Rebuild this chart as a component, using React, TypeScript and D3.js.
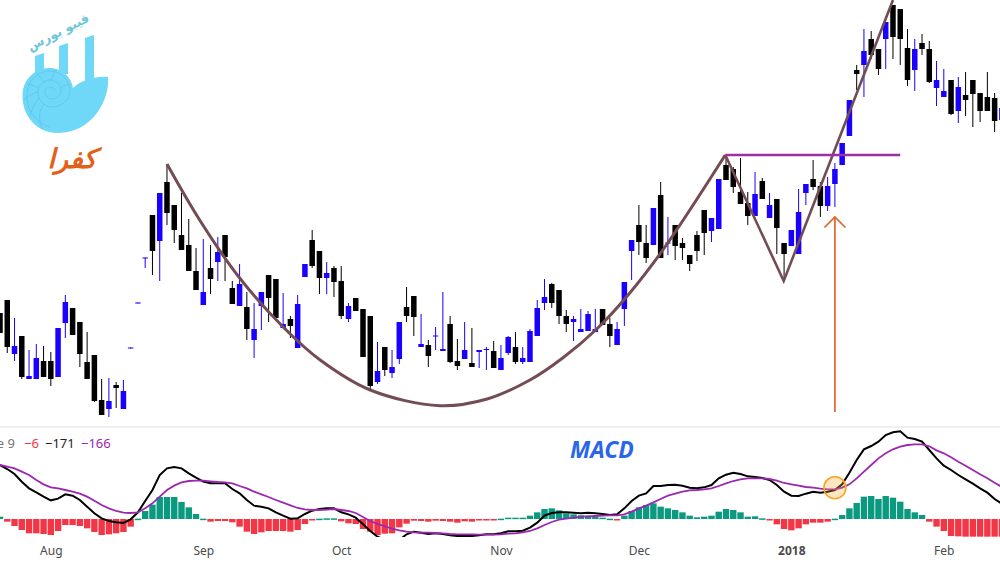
import React, { useEffect, useRef } from 'react';
import * as d3 from 'd3';

// candles, one value per session
const opens = [
  687,700,646,664,621,621,639,639,623,677,
  692,678,638,645,600,591,615,591,651.5,696.5,
  741.5,785,759,818,795,765,755,729,695,732,
  738,765,712,694,693,660,694,725,721,672,
  681,652,723,760,749,722,732,719,681,702,
  691,684,618,653,627,641,693,704,653,655,
  663.5,649,676,639,641,637,648,650,649,630,
  647,653,638,638,664,697,716,710,684,678,
  668,669,668,691,676,655,691,749,775,757,
  755,805,756.5,775,757,745,765,790,769,771,
  835,831,808,797,784,819,782,801,757,754,
  746,807,821,814,794,816,835,864,930,935,
  961,951,961,995,991,952,930,957,951,912,
  903,920,889,905,920,907,903,902,880,
];
const highs = [
  687,700,682,664,650,656,654,648,672,705,
  692,678,668,645,621,622,618,620,652.5,697.5,
  742.5,785,807,836,795,807,781,752,761,755,
  763,765,719,736,708,697,708,725,721,707,
  684,705,736,770,749,738,734,734,697,702,
  691,684,658,653,650,678,713,704,686,660,
  673,708,684,661,678,672,650,653,659,655,
  664,668,653,671,700,721,717,710,690,684,
  691,689,691,691,682,678,718,760,795,775,
  792,818,783,775,762,745,769,790,782,821,
  845,833,842,808,828,822,807,801,757,770,
  811,816,840,818,823,837,857,900,935,971,
  969,951,978,995,991,971,961,966,959,939,
  931,920,923,928,920,907,928,907,892,
];
const lows = [
  667,647,639,621,621,621,623,614,623,662,
  665,633,621,598,585,583,592,591,651.5,696.5,
  732,725,719,775,757,750,729,710,695,706,
  719,719,696,694,660,642,670,678,682,672,
  662,652,723,732,706,706,703,681,678,689,
  643,610,616,624,622,636,678,664,653,633,
  650,649,637,630,641,633,632,630,632,630,
  645,636,636,638,664,690,692,676,668,659,
  668,669,668,675,653,655,674,720,745,737,
  755,742,745,740,740,729,739,745,758,771,
  820,807,796,775,784,801,782,746,720,754,
  746,795,810,783,789,793,835,864,910,903,
  941,925,931,941,935,914,909,945,917,894,
  903,885,877,884,873,878,889,868,880,
];
const closes = [
  667,653,654,623,624,642,623,621,672,698,
  665,646,621,599,585,599,612,609,652.5,697.5,
  742.5,749,807,787,770,750,729,710,708,721,
  748,743,696,716,671,671,708,702,682,676,
  674,696,736,734,722,727,718,684,694,689,
  643,614,629,630,633,678,684,683,656,644,
  664.5,651,638,634,650,633,650,651,632,642,
  663,638,642,669,692,703,697,684,676,681,
  671,686,671,675,664,671,718,760,758,742,
  792,742,757.5,754,752,736,749,767,782,821,
  820,813,796,784,806,801,795,772,746,770,
  788,816,813,794,814,831,857,900,926,949,
  945,931,978,963,961,920,951,951,918,920,
  909,886,913,900,906,889,889,879,892,
];

const macd = [
  162,150,135,112,92,80,67,56,61,74,
  70,57,37,17,2,-6,-10,-12,-1,20,
  54,87,132,152,156,152,137,124,112,107,
  107,107,90,77,57,40,37,32,20,10,
  1,2,15,25,30,32,32,20,14,4,
  -16,-36,-53,-63,-73,-63,-46,-38,-41,-45,
  -43,-45,-49,-51,-51,-51,-49,-46,-46,-43,
  -37,-37,-35,-26,-11,10,18,20,20,19,
  17,19,17,15,12,14,32,54,70,77,
  99,99,102,103,100,94,92,95,102,122,
  133,139,135,128,126,123,117,102,82,70,
  69,76,82,79,82,87,104,139,177,209,
  219,232,252,260,263,244,240,232,207,182,
  160,147,132,119,106,92,79,60,46,
];
const signal = [
  162,157,152,142,132,117,104,95,92,87,
  82,76,67,55,42,32,24,19,18,20,
  32,47,67,87,100,110,114,115,115,113,
  111,110,107,99,92,82,74,66,57,49,
  41,33,29,27,27,28,30,27,24,18,
  6,-6,-15,-22,-29,-34,-38,-40,-41,-41,
  -42,-43,-45,-46,-46,-46,-47,-47,-47,-46,
  -44,-43,-40,-36,-28,-18,-9,-2,1,4,
  7,8,9,10,11,11,14,22,32,40,
  50,60,70,76,82,86,87,89,92,99,
  107,114,119,122,122,122,120,115,108,104,
  100,96,94,91,89,89,94,104,122,142,
  162,182,197,209,217,222,224,224,218,206,
  197,185,172,160,147,134,122,109,96,
];
const histogram = [
  7,-8,-21,-33,-43,-43,-45,-48,-36,-18,
  -18,-21,-28,-39,-48,-46,-43,-39,-23,1,
  24,43,66,66,66,51,35,15,1,-8,
  -6,-6,-10,-23,-38,-45,-40,-36,-36,-36,
  -38,-33,-15,-4,1,2,2,-7,-13,-15,
  -30,-38,-48,-44,-43,-25,-14,-5,-6,-8,
  -5,-6,-8,-11,-7,-8,-3,-1,-3,1,
  4,4,4,10,20,30,32,26,17,14,
  11,10,7,4,1,-3,10,24,35,42,
  47,37,32,27,20,10,5,7,10,22,
  30,27,20,7,8,2,-4,-16,-30,-34,
  -28,-16,-11,-11,-8,1,12,32,48,67,
  69,60,69,64,52,30,20,12,-8,-23,
  -36,-51,-52,-53,-53,-53,-53,-53,-53,
];

const tickIndex = [7, 28, 47, 69, 88, 109, 130];
const tickLabels = ['Aug', 'Sep', 'Oct', 'Nov', 'Dec', '2018', 'Feb'];

// hand drawn cup and handle, in session / price
const cupIndex = [23, 27.5, 32.9, 39, 44.1, 51, 60.6, 67.1, 73, 77.5, 82.2, 86.4, 91.3, 99.9];
const cupPrice = [836, 780, 723, 673, 640, 610, 594.3, 601, 620, 642, 671, 704, 750, 845];
const handleIndex = [99.9, 107.95, 123];
const handlePrice = [845, 719, 1000];
const necklineIndex = [99.9, 124];
const necklinePrice = [845, 845];
const arrowIndex = 115;

const width = 1000;
const height = 563;
const sessionStep = 7.26;

const x = d3.scaleLinear().domain([0, 138]).range([0, 138 * sessionStep]);
const yPrice = d3.scaleLinear().domain([570, 1000]).range([430, 0]);
const yMacd = d3.scaleLinear().domain([-54, 282]).range([537, 425]);

const UP = '#1a00ff';
const DOWN = '#000000';
const BROWN = '#744c54';

export default function App() {
  const axisRef = useRef<SVGGElement>(null);

  useEffect(() => {
    const g = d3.select(axisRef.current!);
    g.call(
      d3.axisBottom(x)
        .tickValues(tickIndex)
        .tickSize(0)
        .tickPadding(0)
        .tickFormat((_, i) => tickLabels[i]) as any
    );
    g.select('.domain').remove();
    g.selectAll('text')
      .attr('fill', '#4a4a4a')
      .style('font-family', '"Noto Sans", sans-serif')
      .style('font-size', '12px')
      .style('font-weight', (_, i) => (tickLabels[i] === '2018' ? 700 : 400));
  }, []);

  const cupLine = d3.line<number>()
    .x(d => x(cupIndex[d]))
    .y(d => yPrice(cupPrice[d]))
    .curve(d3.curveCatmullRom);
  const macdLine = d3.line<number>().x((_, i) => x(i)).y(d => yMacd(d));
  const handleLine = handleIndex.map((d, i) => `${i ? 'L' : 'M'}${x(d)},${yPrice(handlePrice[i])}`).join('');

  const arrowX = x(arrowIndex);

  return (
    <svg width={width} height={height} style={{ position: 'absolute', left: 0, top: 0, background: '#fff' }}>
      <defs>
        <clipPath id="pricePane"><rect x={0} y={0} width={width} height={427} /></clipPath>
        <clipPath id="macdPane"><rect x={0} y={428} width={width} height={109} /></clipPath>
      </defs>

      {/* logo */}
      <g>
        <g fill="#6fd8f8">
          <path d="M35,56 L44,53 L44,78 L35,80 Z" />
          <path d="M59,46 L68,43 L68,74 L59,74 Z" />
          <path d="M85,38 L94,35 L94,80 L85,82 Z" />
          <path d="M108,77 C110,100 92,133 58,133 C36,133 22,115 22.5,95 C23,78 36,68 50,68 C62,68 72,78 73,88 C82,80 95,76 108,77 Z" />
        </g>
        <g fill="none" stroke="#45aed2" strokeWidth={0.5} opacity={0.65}>
          <path d="M50,127 C34,122 26,108 27,94 C28,80 38,71 50,71 C61,71 70,80 70,90 C70,100 62,107 52,107 C44,107 38,100 38,92 C38,85 44,80 50,80 C56,80 61,85 61,90 C61,95 57,99 52,99 C48,99 45,96 45,92 C45,89 47,87 50,87 C53,87 55,89 55,91" />
          <path d="M42,129 C38,118 39,110 44,104 M30,116 C32,108 35,103 39,98 M24,100 C28,96 33,93 38,92 M27,84 C31,84 35,86 38,88 M36,73 C39,76 42,79 45,83 M55,70 C54,74 52,77 51,80 M70,84 C66,85 63,86 61,88" />
        </g>
        <text
          transform="translate(60,36) rotate(-27)"
          textAnchor="middle"
          fill="#6cc6da"
          fontFamily='"DejaVu Sans", sans-serif'
          fontWeight={700}
          fontSize={12.5}
        >
          فیبو بورس
        </text>
        <text
          x={72}
          y={168}
          textAnchor="middle"
          fill="#e2611a"
          fontFamily='"DejaVu Sans", sans-serif'
          fontWeight={700}
          fontStyle="italic"
          fontSize={27}
        >
          کفرا
        </text>
      </g>

      {/* candles */}
      <g clipPath="url(#pricePane)">
        {closes.map((c, i) => {
          const color = c >= opens[i] ? UP : DOWN;
          const top = yPrice(Math.max(c, opens[i]));
          const bottom = yPrice(Math.min(c, opens[i]));
          return (
            <g key={i}>
              <line x1={x(i)} x2={x(i)} y1={yPrice(highs[i])} y2={yPrice(lows[i])} stroke={color} strokeWidth={1} />
              <rect x={x(i) - 2.75} y={top} width={5.5} height={Math.max(bottom - top, 1)} fill={color} />
            </g>
          );
        })}

        <path d={cupLine(d3.range(cupIndex.length)) || ''} fill="none" stroke={BROWN} strokeWidth={3} />
        <path d={handleLine} fill="none" stroke={BROWN} strokeWidth={2.6} />
        <line
          x1={x(necklineIndex[0])}
          x2={x(necklineIndex[1])}
          y1={yPrice(necklinePrice[0])}
          y2={yPrice(necklinePrice[1])}
          stroke="#a02fa5"
          strokeWidth={2.4}
        />

        <g stroke="#e0662a" strokeWidth={1.7} fill="none">
          <line x1={arrowX} x2={arrowX} y1={412} y2={217} />
          <path d={`M${arrowX - 10.5},227.5 L${arrowX},217 L${arrowX + 10.5},227.5`} />
        </g>
      </g>

      <line x1={0} x2={width} y1={427} y2={427} stroke="#f0f0f0" strokeWidth={2} />

      {/* macd pane */}
      <g clipPath="url(#macdPane)">
        {histogram.map((v, i) => (
          <rect
            key={i}
            x={x(i) - 3.2}
            y={yMacd(Math.max(v, 0))}
            width={6.4}
            height={Math.max(Math.abs(yMacd(v) - yMacd(0)), 1.5)}
            fill={v >= 0 ? '#0b9a80' : '#f23645'}
          />
        ))}
        <path d={macdLine(macd) || ''} fill="none" stroke="#000" strokeWidth={2} />
        <path d={macdLine(signal) || ''} fill="none" stroke="#9c27b0" strokeWidth={1.8} />
      </g>

      <circle cx={arrowX} cy={487.7} r={11} fill="#f5a623" fillOpacity={0.28} stroke="#f5a623" strokeWidth={1.6} />

      <g fontFamily='"Noto Sans", sans-serif' fontSize={13}>
        <text x={15} y={448} textAnchor="end" fill="#777">e 9</text>
        <text x={24} y={448} fill="#f23645">−6</text>
        <text x={45} y={448} fill="#222">−171</text>
        <text x={81} y={448} fill="#9c27b0">−166</text>
      </g>

      <text
        x={570}
        y={458}
        fill="#2a66e8"
        fontFamily='"Noto Sans", sans-serif'
        fontWeight={700}
        fontStyle="italic"
        fontSize={23}
      >
        MACD
      </text>

      <g ref={axisRef} transform="translate(0,546)" />
    </svg>
  );
}
